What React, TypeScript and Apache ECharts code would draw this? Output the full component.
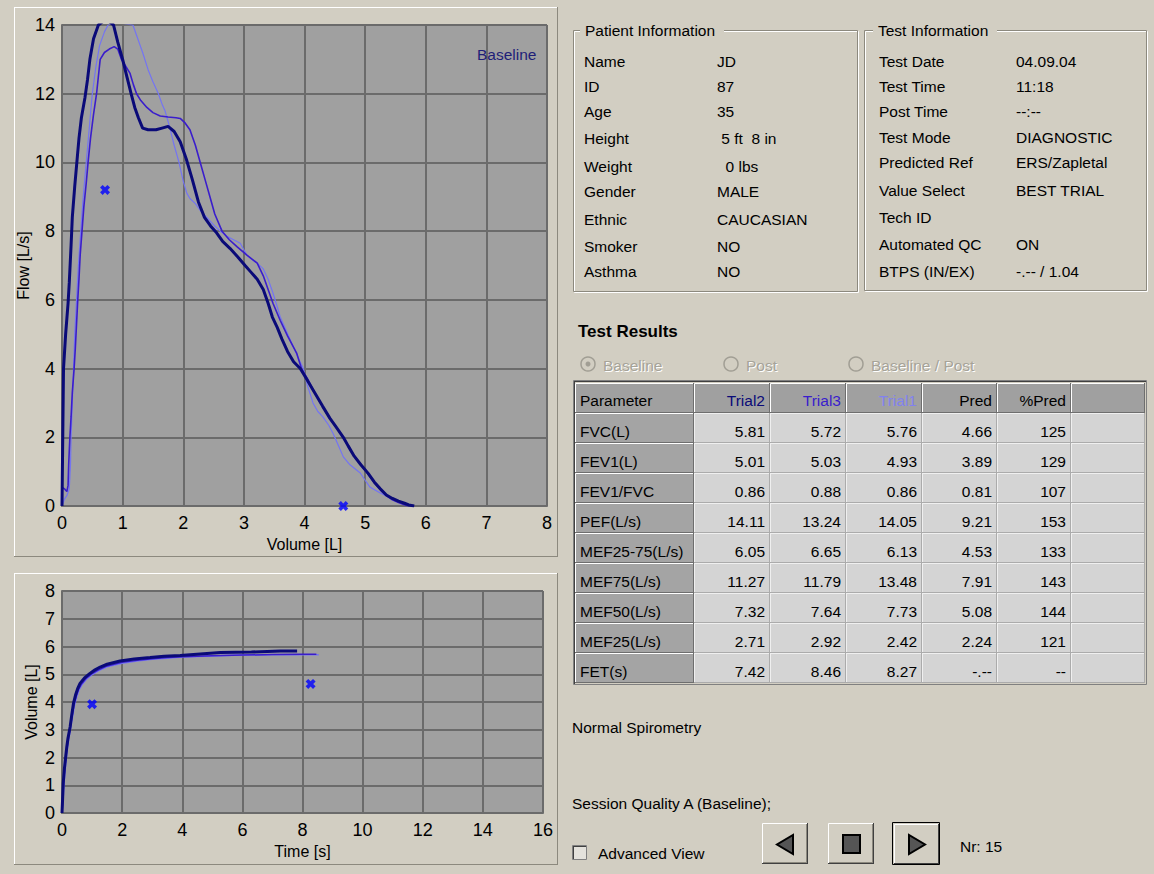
import React, { useEffect, useRef } from 'react';
import * as echarts from 'echarts';

const FONT = '"Liberation Sans", Arial, sans-serif';
const BG = '#D2CEC2';
const PLOT_BG = '#A0A0A0';
const GRIDC = '#6B6B6B';
const C_TRIAL2 = '#0A0A78';
const C_TRIAL3 = '#3A1DCC';
const C_TRIAL1 = '#7474F2';
const C_MARK = '#0000FF';

// ---- Flow / Volume curves (Volume L, Flow L/s) ----
const trial2FV = [
  [0, 0], [0.005, 0.8], [0.01, 1.6], [0.015, 2.4], [0.02, 3.2], [0.025, 4.0], [0.06, 5.0], [0.1, 5.9], [0.12, 6.5],
  [0.15, 7.6], [0.17, 8.4], [0.21, 9.3], [0.25, 10.1], [0.28, 10.7], [0.32, 11.3], [0.38, 11.9], [0.42, 12.4],
  [0.46, 13.0], [0.52, 13.6], [0.6, 14.0], [0.68, 14.11], [0.78, 14.1], [0.85, 14.0], [0.92, 13.5], [1.0, 13.0],
  [1.07, 12.5], [1.14, 12.0], [1.2, 11.6], [1.26, 11.3], [1.33, 11.0], [1.42, 10.95], [1.55, 10.95], [1.65, 11.0],
  [1.75, 11.05], [1.85, 10.9], [1.95, 10.6], [2.05, 10.1], [2.15, 9.5], [2.25, 8.85], [2.35, 8.4], [2.45, 8.15],
  [2.55, 7.95], [2.65, 7.7], [2.77, 7.5], [2.9, 7.25], [3.02, 7.0], [3.12, 6.8], [3.22, 6.6], [3.32, 6.3],
  [3.4, 5.9], [3.47, 5.5], [3.55, 5.2], [3.63, 4.85], [3.72, 4.5], [3.82, 4.2], [3.93, 4.0], [4.0, 3.8],
  [4.1, 3.5], [4.2, 3.2], [4.3, 2.9], [4.42, 2.55], [4.52, 2.3], [4.64, 2.0], [4.72, 1.75], [4.82, 1.45],
  [4.93, 1.2], [5.05, 0.95], [5.15, 0.7], [5.25, 0.5], [5.35, 0.32], [5.45, 0.22], [5.55, 0.14], [5.65, 0.08],
  [5.72, 0.03], [5.81, 0]
];
const trial3FV = [
  [0, 0], [0.0, 0.55], [0.04, 0.5], [0.08, 0.42], [0.1, 0.6], [0.11, 1.2], [0.13, 2.0], [0.15, 2.6], [0.17, 3.3],
  [0.2, 4.0], [0.22, 4.6], [0.24, 5.3], [0.26, 6.0], [0.28, 6.6], [0.3, 7.3], [0.33, 8.0], [0.36, 8.7],
  [0.4, 9.4], [0.43, 10.0], [0.47, 10.7], [0.52, 11.4], [0.57, 12.0], [0.6, 12.5], [0.63, 13.0], [0.7, 13.2],
  [0.78, 13.3], [0.86, 13.37], [0.92, 13.3], [0.98, 13.0], [1.05, 12.8], [1.12, 12.6], [1.18, 12.25],
  [1.23, 12.0], [1.3, 11.8], [1.4, 11.6], [1.5, 11.45], [1.62, 11.35], [1.75, 11.32], [1.88, 11.3],
  [1.95, 11.28], [2.03, 11.15], [2.11, 10.95], [2.2, 10.5], [2.28, 10.0], [2.36, 9.5], [2.44, 9.0],
  [2.52, 8.5], [2.64, 8.0], [2.76, 7.75], [2.89, 7.54], [3.05, 7.3], [3.22, 7.07], [3.32, 6.7], [3.4, 6.3],
  [3.48, 5.9], [3.6, 5.4], [3.72, 4.95], [3.87, 4.45], [3.95, 4.0], [4.05, 3.7], [4.15, 3.35], [4.28, 2.95],
  [4.4, 2.6], [4.52, 2.3], [4.62, 2.05], [4.72, 1.75], [4.82, 1.45], [4.93, 1.2], [5.05, 0.92], [5.15, 0.68],
  [5.25, 0.47], [5.35, 0.3], [5.45, 0.18], [5.55, 0.1], [5.65, 0.04], [5.72, 0]
];
const trial1FV = [
  [0, 0], [0.04, 0.2], [0.08, 0.3], [0.12, 0.5], [0.14, 1.2], [0.15, 2.0], [0.17, 3.0], [0.19, 4.0],
  [0.21, 5.0], [0.24, 6.0], [0.27, 7.0], [0.31, 8.0], [0.35, 9.0], [0.4, 10.0], [0.45, 11.0], [0.5, 12.0],
  [0.56, 12.8], [0.62, 13.4], [0.7, 13.8], [0.76, 14.0], [0.85, 14.05], [1.0, 14.05], [1.1, 14.02],
  [1.17, 14.0], [1.25, 13.6], [1.33, 13.2], [1.42, 12.7], [1.5, 12.35], [1.59, 12.0], [1.65, 11.7],
  [1.7, 11.5], [1.78, 11.0], [1.85, 10.5], [1.93, 10.0], [2.0, 9.45], [2.06, 9.1], [2.11, 8.95], [2.2, 8.8],
  [2.28, 8.6], [2.36, 8.45], [2.44, 8.3], [2.52, 8.15], [2.61, 8.0], [2.72, 7.85], [2.83, 7.75], [2.94, 7.65],
  [3.05, 7.3], [3.15, 7.15], [3.22, 7.07], [3.32, 6.9], [3.4, 6.6], [3.48, 6.2], [3.55, 5.8], [3.6, 5.5],
  [3.7, 5.1], [3.8, 4.7], [3.9, 4.3], [3.98, 4.0], [4.05, 3.5], [4.14, 3.0], [4.22, 2.75], [4.3, 2.6],
  [4.4, 2.35], [4.47, 2.12], [4.55, 1.8], [4.64, 1.43], [4.75, 1.2], [4.92, 0.96], [5.0, 0.75], [5.08, 0.55],
  [5.25, 0.38], [5.4, 0.25], [5.55, 0.13], [5.65, 0.06], [5.76, 0]
];
const fvMarkers = [[0.71, 9.2], [4.64, 0]];

// ---- Volume / Time curves (Time s, Volume L) ----
const trial2VT = [
  [0, 0], [0.02, 0.5], [0.04, 1.07], [0.08, 1.6], [0.12, 2.0], [0.16, 2.39], [0.2, 2.7], [0.27, 3.1],
  [0.32, 3.5], [0.38, 3.94], [0.45, 4.25], [0.52, 4.48], [0.6, 4.67], [0.75, 4.87], [0.93, 5.03], [1.1, 5.16],
  [1.27, 5.26], [1.5, 5.36], [1.93, 5.48], [2.4, 5.55], [2.93, 5.6], [3.4, 5.65], [3.93, 5.68], [4.6, 5.73],
  [5.27, 5.78], [6.3, 5.8], [7.27, 5.84], [7.82, 5.84]
];
const trial3VT = [
  [0, 0], [0.03, 0.6], [0.06, 1.2], [0.1, 1.7], [0.15, 2.2], [0.2, 2.6], [0.27, 3.05], [0.33, 3.45],
  [0.4, 3.9], [0.47, 4.2], [0.55, 4.45], [0.65, 4.65], [0.8, 4.85], [1.0, 5.02], [1.2, 5.15], [1.5, 5.3],
  [2.0, 5.43], [2.5, 5.5], [3.0, 5.56], [3.5, 5.6], [4.0, 5.63], [5.0, 5.67], [6.0, 5.69], [7.0, 5.71],
  [8.0, 5.72], [8.46, 5.72]
];
const trial1VT = [
  [0, 0], [0.04, 0.55], [0.07, 1.1], [0.11, 1.6], [0.16, 2.15], [0.21, 2.55], [0.28, 3.0], [0.34, 3.4],
  [0.41, 3.85], [0.48, 4.15], [0.56, 4.42], [0.66, 4.62], [0.82, 4.83], [1.02, 5.0], [1.22, 5.13],
  [1.5, 5.27], [2.0, 5.4], [2.5, 5.48], [3.0, 5.54], [3.5, 5.58], [4.0, 5.62], [5.0, 5.66], [6.0, 5.69],
  [7.0, 5.7], [8.0, 5.7], [8.54, 5.7]
];
const vtMarkers = [[1.0, 3.92], [8.27, 4.65]];

// ---- Info panels ----
const patientLabels = ['Name', 'ID', 'Age', 'Height', 'Weight', 'Gender', 'Ethnic', 'Smoker', 'Asthma'];
const patientValues = ['JD', '87', '35', '\u00a05 ft\u00a0\u00a08 in', '\u00a0\u00a00 lbs', 'MALE', 'CAUCASIAN', 'NO', 'NO'];
const testLabels = ['Test Date', 'Test Time', 'Post Time', 'Test Mode', 'Predicted Ref', 'Value Select', 'Tech ID', 'Automated QC', 'BTPS (IN/EX)'];
const testValues = ['04.09.04', '11:18', '--:--', 'DIAGNOSTIC', 'ERS/Zapletal', 'BEST TRIAL', '', 'ON', '-.-- / 1.04'];

// ---- Results table ----
const tableHeaders = ['Parameter', 'Trial2', 'Trial3', 'Trial1', 'Pred', '%Pred', ''];
const tableParams = ['FVC(L)', 'FEV1(L)', 'FEV1/FVC', 'PEF(L/s)', 'MEF25-75(L/s)', 'MEF75(L/s)', 'MEF50(L/s)', 'MEF25(L/s)', 'FET(s)'];
const trial2Vals = ['5.81', '5.01', '0.86', '14.11', '6.05', '11.27', '7.32', '2.71', '7.42'];
const trial3Vals = ['5.72', '5.03', '0.88', '13.24', '6.65', '11.79', '7.64', '2.92', '8.46'];
const trial1Vals = ['5.76', '4.93', '0.86', '14.05', '6.13', '13.48', '7.73', '2.42', '8.27'];
const predVals = ['4.66', '3.89', '0.81', '9.21', '4.53', '7.91', '5.08', '2.24', '-.--'];
const pctPredVals = ['125', '129', '107', '153', '133', '143', '144', '121', '--'];

const XPATH = 'path://M0,2.6 L2.6,0 L5,2.4 L7.4,0 L10,2.6 L7.6,5 L10,7.4 L7.4,10 L5,7.6 L2.6,10 L0,7.4 L2.4,5 Z';

function txt(x: number, y: number, text: string, o: any = {}) {
  return {
    type: 'text', x, y, silent: true, z: 10,
    style: {
      text,
      fill: o.fill || '#000',
      font: `${o.weight || 'normal'} ${o.size || 15.5}px ${FONT}`,
      align: o.align || 'left',
      verticalAlign: 'middle'
    }
  };
}
function ln(x1: number, y1: number, x2: number, y2: number, stroke: string, w = 1) {
  return { type: 'line', silent: true, z: 5, shape: { x1, y1, x2, y2 }, style: { stroke, lineWidth: w } };
}
function box(x: number, y: number, w: number, h: number, fill: string, stroke = 'none', lw = 1) {
  return { type: 'rect', silent: true, z: 4, shape: { x, y, width: w, height: h }, style: { fill, stroke, lineWidth: lw } };
}
function raised(x: number, y: number, w: number, h: number, fill: string, dark = '#6E6E6E', light = '#FFFFFF') {
  return [
    box(x, y, w, h, fill),
    ln(x + 0.5, y + 0.5, x + w - 0.5, y + 0.5, light),
    ln(x + 0.5, y + 0.5, x + 0.5, y + h - 0.5, light),
    ln(x, y + h - 0.5, x + w, y + h - 0.5, dark),
    ln(x + w - 0.5, y, x + w - 0.5, y + h, dark)
  ];
}
function etched(x: number, y: number, w: number, h: number) {
  return [
    { type: 'rect', silent: true, z: 3, shape: { x: x + 1.5, y: y + 1.5, width: w, height: h }, style: { fill: 'none', stroke: '#FFFFFF', lineWidth: 1 } },
    { type: 'rect', silent: true, z: 3, shape: { x: x + 0.5, y: y + 0.5, width: w, height: h }, style: { fill: 'none', stroke: '#8C897E', lineWidth: 1 } }
  ];
}
function panel(x: number, y: number, w: number, h: number) {
  return [
    ln(x, y + 0.5, x + w, y + 0.5, '#FFFFFF'),
    ln(x + 0.5, y, x + 0.5, y + h, '#FFFFFF'),
    ln(x, y + h - 0.5, x + w, y + h - 0.5, '#8C897E'),
    ln(x + w - 0.5, y, x + w - 0.5, y + h, '#8C897E')
  ];
}

function buildGraphic() {
  const g: any[] = [];
  // chart panels
  g.push(...panel(14, 7, 544, 550));
  g.push(...panel(14, 573, 544, 292));
  g.push(txt(477, 54, 'Baseline', { fill: '#1E1E78' }));

  // Patient information group
  g.push(...etched(573, 30, 284, 261));
  g.push(box(580, 22, 144, 16, BG));
  g.push(txt(585, 30, 'Patient Information'));
  const pRows = [61, 86, 111, 138, 166, 191, 219, 246, 271];
  patientLabels.forEach((l, i) => {
    g.push(txt(584, pRows[i], l));
    g.push(txt(717, pRows[i], patientValues[i]));
  });

  // Test information group
  g.push(...etched(864, 30, 282, 260));
  g.push(box(873, 22, 124, 16, BG));
  g.push(txt(878, 30, 'Test Information'));
  const tRows = [61, 86, 111, 137, 162, 190, 217, 244, 271];
  testLabels.forEach((l, i) => {
    g.push(txt(879, tRows[i], l));
    if (testValues[i]) g.push(txt(1016, tRows[i], testValues[i]));
  });

  // Test results
  g.push(txt(578, 331, 'Test Results', { weight: 'bold', size: 17 }));
  const radios = [[588, 'Baseline', 603], [731, 'Post', 746], [856, 'Baseline / Post', 871]] as any[];
  radios.forEach((r, i) => {
    g.push({ type: 'circle', silent: true, z: 5, shape: { cx: r[0], cy: 364, r: 7 }, style: { fill: BG, stroke: '#A19E94', lineWidth: 1.5 } });
    if (i === 0) g.push({ type: 'circle', silent: true, z: 6, shape: { cx: r[0], cy: 364, r: 2.5 }, style: { fill: '#A19E94' } });
    g.push(txt(r[2] + 1, 366, r[1], { fill: '#FFFFFF' }));
    g.push(txt(r[2], 365, r[1], { fill: '#A6A398' }));
  });

  // Table
  const colEdges = [575, 694, 770, 846, 922, 997, 1071, 1145];
  const headTop = 383, headH = 30, rowTop = 413, rowH = 30;
  g.push(box(573.5, 380.5, 573, 304, 'none', '#808080', 1));
  g.push(ln(574, 381.5, 1146, 381.5, '#404040'));
  g.push(ln(574.5, 381, 574.5, 684, '#404040'));
  const headColors = ['#000', C_TRIAL2, C_TRIAL3, '#8282EE', '#000', '#000', '#000'];
  tableHeaders.forEach((h, c) => {
    const x0 = colEdges[c], w = colEdges[c + 1] - x0;
    g.push(...raised(x0, headTop, w, headH, '#A0A0A0'));
    if (h) {
      if (c === 0) g.push(txt(x0 + 5, headTop + 17, h, { fill: headColors[c], size: 15.5 }));
      else g.push(txt(x0 + w - 5, headTop + 17, h, { fill: headColors[c], size: 15.5, align: 'right' }));
    }
  });
  const cols = [trial2Vals, trial3Vals, trial1Vals, predVals, pctPredVals];
  tableParams.forEach((p, r) => {
    const y0 = rowTop + r * rowH;
    g.push(...raised(colEdges[0], y0, colEdges[1] - colEdges[0], rowH, '#A4A4A4'));
    g.push(txt(colEdges[0] + 5, y0 + 18, p, { size: 15.5 }));
    for (let c = 1; c < 7; c++) {
      const x0 = colEdges[c], w = colEdges[c + 1] - x0;
      g.push(box(x0, y0, w, rowH, '#D4D4D4'));
      g.push(ln(x0, y0 + 0.5, x0 + w, y0 + 0.5, '#EFEFEF'));
      g.push(ln(x0 + 0.5, y0, x0 + 0.5, y0 + rowH, '#EFEFEF'));
      g.push(ln(x0, y0 + rowH - 0.5, x0 + w, y0 + rowH - 0.5, '#ABABAB'));
      g.push(ln(x0 + w - 0.5, y0, x0 + w - 0.5, y0 + rowH, '#ABABAB'));
      if (c <= 5) g.push(txt(x0 + w - 5, y0 + 18, cols[c - 1][r], { size: 15.5, align: 'right' }));
    }
  });

  // Bottom texts
  g.push(txt(572, 727, 'Normal Spirometry'));
  g.push(txt(572, 803, 'Session Quality A (Baseline);'));
  g.push(box(572.5, 845.5, 14, 14, '#E4E2DC', '#808080', 1));
  g.push(ln(573, 846.5, 586, 846.5, '#404040'));
  g.push(ln(573.5, 846, 573.5, 859, '#404040'));
  g.push(txt(598, 853, 'Advanced View'));

  // Buttons
  g.push(...raised(762, 823, 46, 41, BG, '#404040'));
  g.push(ln(763, 862.5, 807, 862.5, '#8C897E'));
  g.push(ln(806.5, 824, 806.5, 863, '#8C897E'));
  g.push({ type: 'polygon', silent: true, z: 6, shape: { points: [[793, 835], [793, 854], [777, 844.5]] }, style: { fill: '#555555', stroke: '#000', lineWidth: 2 } });
  g.push(...raised(828, 823, 46, 41, BG, '#404040'));
  g.push(ln(829, 862.5, 873, 862.5, '#8C897E'));
  g.push(ln(872.5, 824, 872.5, 863, '#8C897E'));
  g.push({ type: 'rect', silent: true, z: 6, shape: { x: 843, y: 835, width: 17, height: 18 }, style: { fill: '#555555', stroke: '#000', lineWidth: 2 } });
  g.push(box(892.5, 822.5, 47, 42, 'none', '#000', 1));
  g.push(...raised(894, 824, 45, 40, BG, '#404040'));
  g.push({ type: 'polygon', silent: true, z: 6, shape: { points: [[909, 835], [909, 854], [925, 844.5]] }, style: { fill: '#555555', stroke: '#000', lineWidth: 2 } });
  g.push(txt(960, 846, 'Nr: 15'));
  return g;
}

export default function App() {
  const ref = useRef<HTMLDivElement>(null);
  useEffect(() => {
    if (!ref.current) return;
    const chart = echarts.init(ref.current, undefined, { renderer: 'svg' });
    const axisCommon = {
      type: 'value',
      axisLine: { show: true, onZero: false, lineStyle: { color: GRIDC, width: 2 } },
      axisTick: { show: false },
      splitLine: { show: true, lineStyle: { color: GRIDC, width: 2 } },
      nameLocation: 'middle',
      nameTextStyle: { fontSize: 16, color: '#000', fontFamily: FONT }
    };
    const xLabel = { fontSize: 18, color: '#000', fontFamily: FONT, margin: 8 };
    const yLabel = { fontSize: 18, color: '#000', fontFamily: FONT, margin: 7 };
    const line = (data: number[][], color: string, width: number, xi: number, z: number) => ({
      type: 'line', xAxisIndex: xi, yAxisIndex: xi, data, showSymbol: false, symbol: 'none',
      lineStyle: { color, width }, clip: true, z, silent: true
    });
    const marks = (data: number[][], xi: number) => ({
      type: 'scatter', xAxisIndex: xi, yAxisIndex: xi, data, symbol: XPATH, symbolSize: 10,
      itemStyle: { color: C_MARK }, z: 8, silent: true, clip: false
    });
    chart.setOption({
      animation: false,
      backgroundColor: BG,
      grid: [
        { left: 62, top: 25, width: 485, height: 481, show: true, backgroundColor: PLOT_BG, borderWidth: 0 },
        { left: 62, top: 591, width: 481, height: 222, show: true, backgroundColor: PLOT_BG, borderWidth: 0 }
      ],
      xAxis: [
        { ...axisCommon, gridIndex: 0, min: 0, max: 8, interval: 1, axisLabel: xLabel, name: 'Volume [L]', nameGap: 29 },
        { ...axisCommon, gridIndex: 1, min: 0, max: 16, interval: 2, axisLabel: xLabel, name: 'Time [s]', nameGap: 30 }
      ],
      yAxis: [
        { ...axisCommon, gridIndex: 0, min: 0, max: 14, interval: 2, axisLabel: yLabel, name: 'Flow [L/s]', nameGap: 23, nameRotate: 90 },
        { ...axisCommon, gridIndex: 1, min: 0, max: 8, interval: 1, axisLabel: yLabel, name: 'Volume [L]', nameGap: 23, nameRotate: 90 }
      ],
      series: [
        line(trial1FV, C_TRIAL1, 1.2, 0, 3),
        line(trial3FV, C_TRIAL3, 1.6, 0, 4),
        line(trial2FV, C_TRIAL2, 3, 0, 5),
        marks(fvMarkers, 0),
        line(trial1VT, C_TRIAL1, 1.5, 1, 3),
        line(trial3VT, C_TRIAL3, 1.5, 1, 4),
        line(trial2VT, C_TRIAL2, 3, 1, 5),
        marks(vtMarkers, 1)
      ],
      graphic: buildGraphic()
    });
    return () => chart.dispose();
  }, []);
  return <div ref={ref} style={{ position: 'absolute', left: 0, top: 0, width: 1154, height: 874 }} />;
}
